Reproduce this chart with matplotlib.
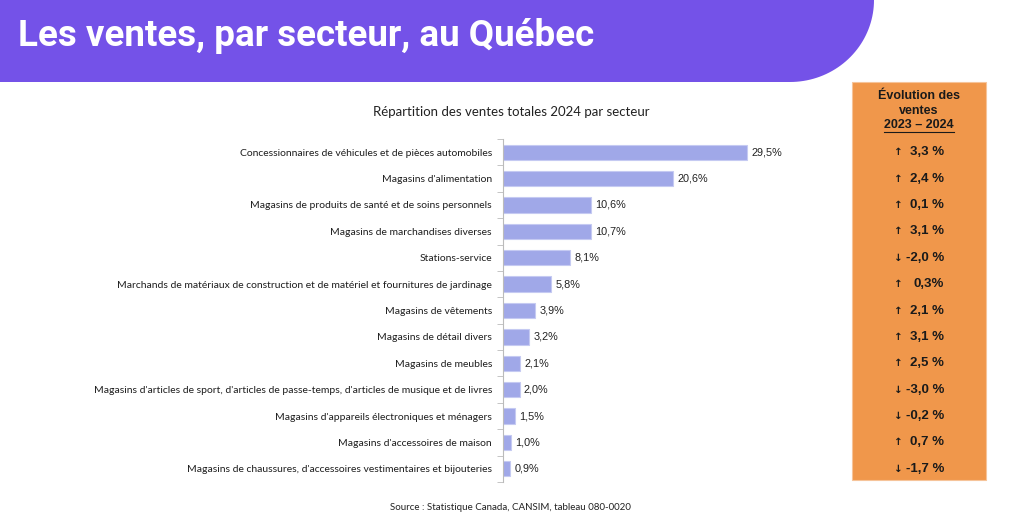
import matplotlib
matplotlib.use('Agg')
import matplotlib.pyplot as plt
from matplotlib.path import Path
from matplotlib.patches import PathPatch, Rectangle
import numpy as np

secteurs = [
    "Concessionnaires de véhicules et de pièces automobiles",
    "Magasins d'alimentation",
    "Magasins de produits de santé et de soins personnels",
    "Magasins de marchandises diverses",
    "Stations-service",
    "Marchands de matériaux de construction et de matériel et fournitures de jardinage",
    "Magasins de vêtements",
    "Magasins de détail divers",
    "Magasins de meubles",
    "Magasins d'articles de sport, d'articles de passe-temps, d'articles de musique et de livres",
    "Magasins d'appareils électroniques et ménagers",
    "Magasins d'accessoires de maison",
    "Magasins de chaussures, d'accessoires vestimentaires et bijouteries",
]
parts = [29.5, 20.6, 10.6, 10.7, 8.1, 5.8, 3.9, 3.2, 2.1, 2.0, 1.5, 1.0, 0.9]
evolution = [3.3, 2.4, 0.1, 3.1, -2.0, 0.3, 2.1, 3.1, 2.5, -3.0, -0.2, 0.7, -1.7]
evolution_txt = ["3,3 %", "2,4 %", "0,1 %", "3,1 %", "-2,0 %", "0,3%", "2,1 %",
                 "3,1 %", "2,5 %", "-3,0 %", "-0,2 %", "0,7 %", "-1,7 %"]

W, H = 1024, 523
fig = plt.figure(figsize=(W / 100, H / 100), dpi=100)
fig.patch.set_facecolor('white')

# bandeau violet (coordonnées en pixels, origine en haut à gauche)
def px(x, y):
    return (x / W, 1 - y / H)

t = np.linspace(0, np.pi / 2, 40)
cx, cy, rx, ry = 790, 0, 84, 82
curve = [px(cx + rx * np.cos(a), cy + ry * np.sin(a)) for a in t]
verts = [px(0, 0), px(cx + rx, 0)] + curve + [px(0, 82), px(0, 0)]
codes = [Path.MOVETO] + [Path.LINETO] * (len(verts) - 2) + [Path.CLOSEPOLY]
fig.patches.append(PathPatch(Path(verts, codes), transform=fig.transFigure,
                             facecolor='#7452E8', edgecolor='none'))
fig.text(18 / W, 1 - 36 / H, "Les ventes, par secteur, au Québec", color='white',
         fontsize=26.5, fontweight='bold', family='Roboto',
         va='center', ha='left')

# graphique à barres
left, right_px = 503, 503 + 35 * 8.27
top_px, bot_px = 139, 482
ax = fig.add_axes([left / W, 1 - bot_px / H, (right_px - left) / W, (bot_px - top_px) / H])
y = np.arange(len(parts))
ax.barh(y, parts, height=0.58, color='#A0A8E8', edgecolor='#C5CAF2', linewidth=0.8)
for yi, v in zip(y, parts):
    ax.text(v + 0.5, yi, f"{v:.1f}%".replace('.', ','), va='center', ha='left',
            fontsize=7.8, family='Liberation Sans', color='#222222')
ax.set_xlim(0, 35)
ax.set_ylim(len(parts) - 0.5, -0.5)
ax.set_yticks(y)
ax.set_yticklabels(secteurs, fontsize=7.5, family='Lato', color='#1E1E1E')
ax.tick_params(axis='y', which='major', length=0, pad=8)
ax.set_yticks(np.arange(-0.5, len(parts)), minor=True)
ax.tick_params(axis='y', which='minor', length=4, color='#BBBBBB')
ax.set_xticks([])
for s in ['top', 'right', 'bottom']:
    ax.spines[s].set_visible(False)
ax.spines['left'].set_color('#BBBBBB')
ax.patch.set_alpha(0)

fig.text(511 / W, 1 - 112 / H, "Répartition des ventes totales 2024 par secteur",
         ha='center', va='center', fontsize=9.5, family='Lato', color='#222222')

# encadré orange
fig.patches.append(Rectangle((852 / W, 1 - 480 / H), (986 - 852) / W, (480 - 82) / H,
                             transform=fig.transFigure, facecolor='#F0974B',
                             edgecolor='#F6C49A', linewidth=0.8))
fig.text(919 / W, 1 - 96 / H, "Évolution des", ha='center', va='center',
         fontsize=9, fontweight='bold', family='Liberation Sans', color='#1A1A1A')
fig.text(919 / W, 1 - 111 / H, "ventes", ha='center', va='center',
         fontsize=9, fontweight='bold', family='Liberation Sans', color='#1A1A1A')
fig.text(919 / W, 1 - 125 / H, "2023 – 2024", ha='center', va='center',
         fontsize=9, fontweight='bold', family='Liberation Sans', color='#1A1A1A')
fig.lines.append(plt.Line2D([884 / W, 954 / W], [1 - 131.5 / H, 1 - 131.5 / H],
                            transform=fig.transFigure, color='#1A1A1A', linewidth=0.8))

for yi, ev, txt in zip(y, evolution, evolution_txt):
    yf = ax.transData.transform((0, yi))[1] / fig.bbox.height
    arrow = '↑' if ev >= 0 else '↓'
    fig.text(898 / W, yf, arrow, ha='center', va='center', fontsize=7.5,
             fontweight='bold', family='DejaVu Sans', color='#1A1A1A')
    fig.text(944 / W, yf, txt, ha='right', va='center', fontsize=9.5,
             fontweight='bold', family='Liberation Sans', color='#1A1A1A')

fig.text(510 / W, 1 - 508 / H, "Source : Statistique Canada, CANSIM, tableau 080-0020",
         ha='center', va='center', fontsize=7, family='Lato', color='#222222')

fig.savefig('out.png', dpi=100)
